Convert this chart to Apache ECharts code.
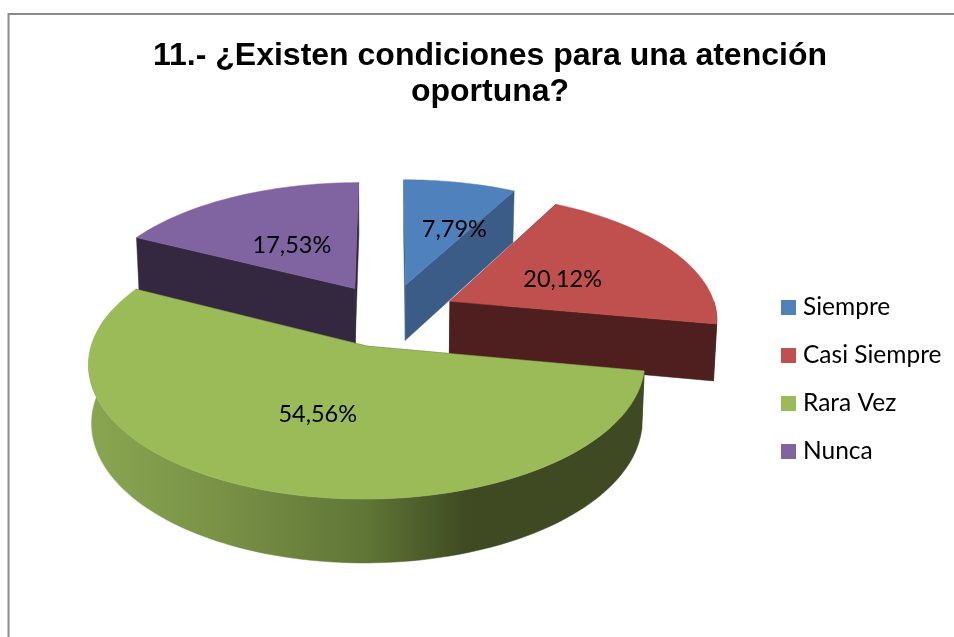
<!DOCTYPE html>
<html>
<head>
<meta charset="utf-8">
<style>html,body{margin:0;padding:0;background:#fff}#c{width:954px;height:637px}</style>
<script src="https://cdn.jsdelivr.net/npm/echarts@6/dist/echarts.min.js"></script>
</head>
<body>
<div id="c"></div>
<script>
const categories = ['Siempre', 'Casi Siempre', 'Rara Vez', 'Nunca'];
const values = [7.79, 20.12, 54.56, 17.53];
const valueLabels = ['7,79%', '20,12%', '54,56%', '17,53%'];
const topColors = ['#4f81bd', '#c0504d', '#9bbb59', '#8064a2'];
const sideColors = ['#3a5c87', '#4f1e1e', '#3f4a22', '#332840'];
const drawOrder = [3, 0, 1, 2];
const labelRadius = [0.52, 0.44, 0.36, 0.60];
const labelNudge = [[19, 1], [12, 1], [-15, 21], [12, 14]];
const titleText = '11.- ¿Existen condiciones para una atención\noportuna?';

const VIEW = { cx: 389.5, cy: 315, R: 267.5, explode: 68, tilt: 0.4687, persp: 0.000467, depth: 56.5, depthPersp: 40, shrink: 0.99 };
const total = values.reduce((a, b) => a + b, 0);
const rad = v => v / total * Math.PI * 2;
const starts = values.map((_, i) => values.slice(0, i).reduce((a, b) => a + rad(b), 0));

function project(X, Y, low) {
  const s = 1 / (1 + VIEW.persp * Y);
  const f = low ? VIEW.shrink : 1;
  const drop = low ? VIEW.depth + VIEW.depthPersp * (s - 1) : 0;
  return [VIEW.cx + X * s * f, VIEW.cy - Y * VIEW.tilt * s + drop];
}
function planePoint(i, ang, r) {
  const mid = starts[i] + rad(values[i]) / 2;
  return [VIEW.explode * Math.sin(mid) + r * Math.sin(ang), VIEW.explode * Math.cos(mid) + r * Math.cos(ang)];
}
function arc(i, a0, a1, low) {
  const n = Math.max(2, Math.ceil((a1 - a0) / 0.03)), pts = [];
  for (let k = 0; k <= n; k++) {
    const p = planePoint(i, a0 + (a1 - a0) * k / n, VIEW.R);
    pts.push(project(p[0], p[1], low));
  }
  return pts;
}
function renderSlice(i) {
  return function (params, api) {
    const a0 = starts[i], a1 = a0 + rad(api.value(0));
    const apex = planePoint(i, 0, 0);
    const top = project(apex[0], apex[1], false), bot = project(apex[0], apex[1], true);
    const children = [];
    const poly = (points, fill) => children.push({ type: 'polygon', shape: { points }, style: { fill, stroke: fill, lineWidth: 0.5 } });
    const side = sideColors[i];
    [a0, a1].forEach(a => {
      const p = planePoint(i, a, VIEW.R);
      poly([top, project(p[0], p[1], false), project(p[0], p[1], true), bot], side);
    });
    const f0 = Math.max(a0, Math.PI / 2), f1 = Math.min(a1, Math.PI * 1.5 + 0.28);
    if (f1 > f0) {
      const rimFill = i === 2
        ? new echarts.graphic.LinearGradient(0, 0, 1, 0, [
            { offset: 0, color: '#8aa651' }, { offset: 0.22, color: '#7a9347' },
            { offset: 0.5, color: '#5f7636' }, { offset: 0.68, color: '#3f4a22' }, { offset: 1, color: '#3f4a22' }])
        : side;
      poly(arc(i, f0, f1, false).concat(arc(i, f0, f1, true).reverse()), rimFill);
    }
    poly([top].concat(arc(i, a0, a1, false)), topColors[i]);
    const mid = (a0 + a1) / 2, lp = planePoint(i, mid, VIEW.R * labelRadius[i]), lq = project(lp[0], lp[1], false);
    children.push({ type: 'text', x: lq[0] + labelNudge[i][0], y: lq[1] + labelNudge[i][1], style: { text: valueLabels[i], fill: '#000', font: '23.5px Lato', align: 'center', verticalAlign: 'middle' } });
    return { type: 'group', children };
  };
}

const chart = echarts.init(document.getElementById('c'));
chart.setOption({
  animation: false,
  title: { text: titleText, left: 490, top: 38, textAlign: 'center', padding: 0,
    textStyle: { fontFamily: 'Liberation Sans', fontWeight: 'bold', fontSize: 32, lineHeight: 36, color: '#000' } },
  legend: { orient: 'vertical', left: 781, top: 295, itemWidth: 15, itemHeight: 15, itemGap: 23, icon: 'rect', padding: 0,
    selectedMode: false, data: categories,
    textStyle: { fontFamily: 'Lato', fontSize: 24.5, color: '#000', padding: [0, 0, 0, 2] } },
  graphic: [{ type: 'polyline', silent: true, shape: { points: [[8.5, 637], [8.5, 14], [954, 14]] }, style: { stroke: '#8a8a8a', lineWidth: 2, fill: null } }],
  series: drawOrder.map((i, z) => ({
    type: 'custom', name: categories[i], coordinateSystem: 'none', z: 2 + z, silent: true,
    itemStyle: { color: topColors[i] }, data: [[values[i]]], renderItem: renderSlice(i)
  }))
});
</script>
</body>
</html>
